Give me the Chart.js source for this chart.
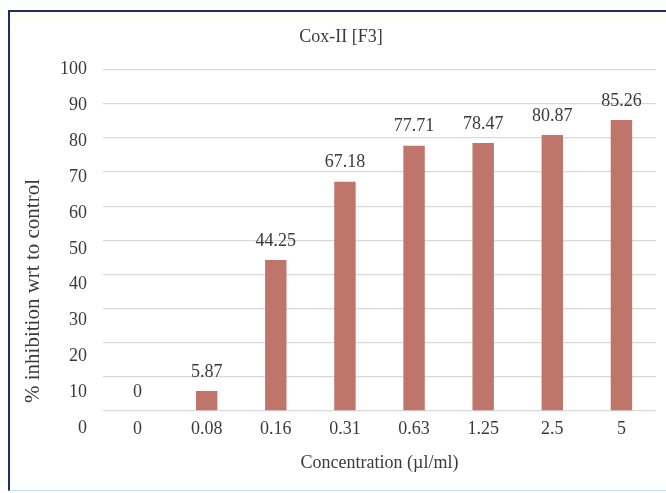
<!DOCTYPE html>
<html>
<head>
<meta charset="utf-8">
<script src="https://cdn.jsdelivr.net/npm/chart.js@4/dist/chart.umd.min.js"></script>
<style>
  html, body { margin: 0; padding: 0; background: #ffffff; }
  #wrap { position: relative; width: 666px; height: 493px; overflow: hidden; font-family: 'Liberation Serif', serif; }
  #frame {
    position: absolute; left: 8px; top: 10px; width: 700px; height: 478px;
    border-top: 2px solid #1c2f6b; border-left: 2px solid #1c2f6b;
    border-bottom: 1px solid #bfe2f4;
  }
  #strip { position: absolute; left: 10px; top: 12px; width: 700px; height: 10px; background: #fffdf4; }
  #chart { position: absolute; left: 0; top: 0; }
</style>
</head>
<body>
<div id="wrap">
  <div id="frame"></div>
  <div id="strip"></div>
  <canvas id="chart" width="666" height="493"></canvas>
</div>
<script>
// Cox-II inhibition per concentration
const categories = ['0', '0.08', '0.16', '0.31', '0.63', '1.25', '2.5', '5'];
const inhibition = [0, 5.87, 44.25, 67.18, 77.71, 78.47, 80.87, 85.26];
const gridValues = [0, 10, 20, 30, 40, 50, 60, 70, 80, 90, 100];
const yTickLabels = ['0', '10', '20', '30', '40', '50', '60', '70', '80', '90', '100'];

const chartTitle = 'Cox-II [F3]';
const xTitle = 'Concentration (\u00b5l/ml)';
const yTitle = '% inhibition wrt to control';

const FONT = '"Liberation Serif", "Times New Roman", serif';
const TEXT = '#3a3a3a';

// value labels above each bar
const barValueLabels = {
  id: 'barValueLabels',
  afterDatasetsDraw(chart) {
    const ctx = chart.ctx;
    const meta = chart.getDatasetMeta(0);
    ctx.save();
    ctx.font = '18px ' + FONT;
    ctx.fillStyle = TEXT;
    ctx.textAlign = 'center';
    ctx.textBaseline = 'middle';
    meta.data.forEach((bar, i) => {
      ctx.fillText(String(inhibition[i]), bar.x, bar.y - 19);
    });
    ctx.restore();
  }
};

// rotated value-axis caption
const yCaption = {
  id: 'yCaption',
  afterDraw(chart) {
    const ctx = chart.ctx;
    ctx.save();
    ctx.font = '21px ' + FONT;
    ctx.fillStyle = TEXT;
    ctx.textAlign = 'center';
    ctx.textBaseline = 'middle';
    ctx.translate(33, 291);
    ctx.rotate(-Math.PI / 2);
    ctx.fillText(yTitle, 0, 0);
    ctx.restore();
  }
};

function drawChart() {
  new Chart(document.getElementById('chart'), {
    type: 'bar',
    data: {
      labels: categories,
      datasets: [{
        data: inhibition,
        backgroundColor: '#c0756b',
        borderWidth: 0,
        categoryPercentage: 1,
        barPercentage: 0.31
      }]
    },
    options: {
      responsive: false,
      animation: false,
      devicePixelRatio: 1,
      layout: { padding: { left: 16, right: 0, top: 0, bottom: 0 } },
      plugins: {
        legend: { display: false },
        tooltip: { enabled: false },
        title: {
          display: true,
          text: chartTitle,
          color: TEXT,
          font: { family: FONT, size: 18, weight: 'normal' },
          padding: { top: 26, bottom: 22 }
        }
      },
      scales: {
        x: {
          type: 'category',
          grid: { display: false },
          border: { display: false },
          ticks: { color: TEXT, font: { family: FONT, size: 18 }, padding: -1, maxRotation: 0 },
          title: {
            display: true,
            text: xTitle,
            color: TEXT,
            font: { family: FONT, size: 18 },
            padding: { top: 0, bottom: 19 }
          },
          afterFit(scale) { scale.height = 82; }
        },
        y: {
          type: 'linear',
          position: 'left',
          min: 0,
          max: 100,
          afterBuildTicks(scale) { scale.ticks = gridValues.map(v => ({ value: v })); },
          grid: { color: '#d9d9d9', lineWidth: 1.3, drawTicks: false },
          border: { display: false },
          ticks: { display: false },
          afterFit(scale) { scale.width = 0; }
        },
        // tick-label column: its steps run a little taller than the grid,
        // so the 0 label sits level with the category labels
        yl: {
          type: 'linear',
          position: 'left',
          min: 4.75,
          max: 100,
          afterBuildTicks(scale) { scale.ticks = gridValues.map(v => ({ value: v })); },
          grid: { display: false, drawTicks: false },
          border: { display: false },
          ticks: {
            color: TEXT,
            font: { family: FONT, size: 18 },
            padding: 16,
            autoSkip: false,
            callback: (v, i) => yTickLabels[i]
          },
          afterFit(scale) { scale.width = 87; }
        },
        yr: {
          type: 'linear',
          position: 'right',
          display: true,
          grid: { display: false, drawTicks: false },
          border: { display: false },
          ticks: { display: false },
          afterFit(scale) { scale.width = 10; }
        }
      }
    },
    plugins: [barValueLabels, yCaption]
  });
}

if (document.fonts && document.fonts.load) {
  document.fonts.load('18px "Liberation Serif"').then(drawChart, drawChart);
} else {
  drawChart();
}
</script>
</body>
</html>
